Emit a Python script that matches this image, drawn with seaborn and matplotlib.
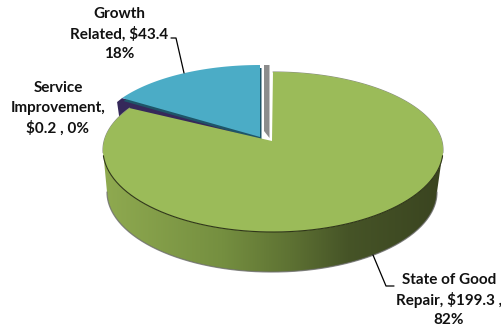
import numpy as np
import matplotlib
matplotlib.use("Agg")
import matplotlib.pyplot as plt
from matplotlib.colors import LinearSegmentedColormap
from matplotlib.patches import Polygon
import seaborn as sns

# Capital budget split, in $ millions
categories = ["State of Good Repair", "Service Improvement", "Growth Related"]
amounts = [199.3, 0.2, 43.4]
labels = [["State of Good", "Repair, $199.3 ,", "82%"],
          ["Service", "Improvement,", "$0.2 , 0%"],
          ["Growth", "Related, $43.4", "18%"]]

GREEN, NAVY, TEAL = sns.color_palette(["#9BBB59", "#35285A", "#4BACC6"])
TEAL_DARK = "#1E5568"
GAP_GREY = "#8C8C8C"
WALL_STOPS = [(0.0, "#8FAA50"), (0.35, "#758F40"), (0.55, "#5E7233"),
              (0.72, "#465427"), (1.0, "#3A4420")]
ANGLE_SQUEEZE = 0.89    # foreshortening of the tilted pie on the far side


def slice_angles(values):
    """Clockwise sweep from 12 o'clock, one (start, end) pair per value, degrees."""
    ends = 90 - np.cumsum(values) / np.sum(values) * 360
    starts = np.r_[90, ends[:-1]]
    return starts, ends


def view_angle(a):
    return 90 + (a - 90) * ANGLE_SQUEEZE


def rim(t, cx, cy, rx, ry_up, ry_down):
    """Point on the pie's rim; the near half is drawn deeper than the far half."""
    t = np.radians(t)
    s = np.sin(t)
    return cx + rx * np.cos(t), cy - np.where(s > 0, ry_up, ry_down) * s


sns.set_style("white")
fig, ax = plt.subplots(figsize=(5.02, 3.28), dpi=100)
fig.subplots_adjust(0, 0, 1, 1)

starts, ends = slice_angles(np.array(amounts))
green_end = view_angle(360 + ends[0])   # far-left corner of the large slice
navy_mid = view_angle(360 + ends[1])
teal_start = view_angle(360 + ends[1])
teal_end = view_angle(360 + ends[2])

# Front wall of the large slice with its left-to-right shading
top_face = dict(cx=273, cy=150, rx=170, ry_up=78, ry_down=82)
t_front = np.linspace(180, 360, 200)
fx, fy = rim(t_front, **top_face)
bx, by = rim(t_front, 272, 192, 165, 80, 80)
wall = Polygon(np.c_[np.r_[fx, bx[::-1]], np.r_[fy, by[::-1]]],
               closed=True, fc="none", ec="none")
ax.add_patch(wall)
cmap = LinearSegmentedColormap.from_list("wall", WALL_STOPS)
img = ax.imshow(np.linspace(0, 1, 256)[None, :], cmap=cmap, aspect="auto",
                extent=(103, 443, 280, 140), zorder=1)
img.set_clip_path(wall)
ax.set_xlim(0, 502)
ax.set_ylim(328, 0)
ax.axis("off")
ax.plot(bx, by, color="#6E6E6E", lw=0.9, alpha=0.8, zorder=1.5)

# Side face of the tiny slice, seen behind the two large ones
nx, ny = rim(navy_mid, 258, 139, 164, 72, 72)
ax.fill([260, nx + 2, nx - 3, nx - 1, nx + 3, 262],
        [136, ny - 2, ny + 2, ny + 16, ny + 18, 145],
        color=NAVY, lw=0, zorder=2)

# Exploded slice: thin dark edge below, then its top face
teal_kw = dict(cx=260, cy=137, rx=164, ry_up=72, ry_down=72)
t_teal = np.linspace(teal_start, teal_end, 80)
tx, ty = rim(t_teal, **teal_kw)
ax.fill(np.r_[260, tx] + 1.5, np.r_[137, ty] + 3, color=TEAL_DARK, lw=0, zorder=3)
ax.fill(np.r_[260, tx], np.r_[137, ty], color=TEAL, lw=0, zorder=4)

# Grey cut face showing in the gap between the slices
ax.fill([264, 269.5, 269.5, 264], [65, 65, 138, 131], color=GAP_GREY, lw=0, zorder=3)

# Top face of the large slice
t_green = np.linspace(90, green_end - 360, 500)
gx, gy = rim(t_green, **top_face)
ax.fill(np.r_[272, gx], np.r_[141, gy], color=GREEN, lw=0, zorder=5)
ax.plot(*rim(np.linspace(-4, -176, 200), **top_face), color="#2F3618", lw=0.8, zorder=6)
for arc in (np.linspace(90, -2, 100), np.linspace(-178, green_end - 360, 100)):
    ax.plot(*rim(arc, **top_face), color="#8A8F80", lw=0.8, zorder=4.5)

# Leader lines
ax.plot([184, 176, 171], [73, 38, 38], color="black", lw=0.9, zorder=7)
ax.plot([373, 386, 394], [255, 286, 286], color="black", lw=0.9, zorder=7)

# Data labels, one text per line so the line pitch stays even
text_kw = dict(family="Lato", weight="bold", fontsize=11, ha="center", va="center",
               color="#111111", zorder=8)
for lines, x0, y0 in zip(labels, (449, 58, 119), (280, 88, 14)):
    for i, line in enumerate(lines):
        ax.text(x0, y0 + 20.2 * i, line, parse_math=False, **text_kw)

fig.savefig("out.png", dpi=100, facecolor="white")
